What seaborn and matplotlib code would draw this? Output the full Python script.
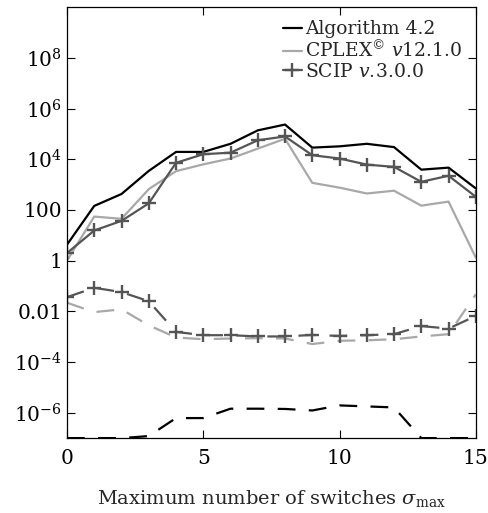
import numpy as np
import pandas as pd
import matplotlib
matplotlib.use("Agg")
import matplotlib.pyplot as plt
import seaborn as sns

# ==============================
# Dados (log10 dos valores)
# ==============================
switches = list(range(16))

alg_solid = [0.63, 2.16, 2.63, 3.54, 4.29, 4.29, 4.61, 5.14, 5.37, 4.46, 4.51, 4.61, 4.48, 3.59, 3.67, 2.85]
cplex_solid = [0.0, 1.74, 1.65, 2.82, 3.53, 3.80, 4.03, 4.42, 4.81, 3.07, 2.88, 2.65, 2.76, 2.17, 2.33, 0.12]
scip_solid = [0.30, 1.19, 1.57, 2.26, 3.86, 4.20, 4.26, 4.75, 4.90, 4.16, 4.03, 3.79, 3.70, 3.11, 3.35, 2.52]

alg_dashed = [-7.0, -7.0, -7.0, -6.92, -6.21, -6.21, -5.84, -5.84, -5.85, -5.91, -5.71, -5.75, -5.79, -7.0, -7.0, -7.0]
cplex_dashed = [-1.66, -2.03, -1.92, -2.55, -3.03, -3.10, -3.07, -3.06, -3.07, -3.29, -3.16, -3.14, -3.10, -2.99, -2.90, -1.33]
scip_dashed = [-1.44, -1.07, -1.24, -1.60, -2.81, -2.94, -2.94, -2.99, -2.99, -2.93, -2.97, -2.94, -2.90, -2.58, -2.68, -2.18]

ytick_vals = [1e8, 1e6, 1e4, 100, 1, 0.01, 1e-4, 1e-6]
ytick_labels = [r"$10^{8}$", r"$10^{6}$", r"$10^{4}$", "100", "1", "0.01", r"$10^{-4}$", r"$10^{-6}$"]

# ==============================
# Configurações
# ==============================
sns.set_theme(style="ticks")
plt.rcParams["font.family"] = ["DejaVu Serif"]
plt.rcParams["mathtext.fontset"] = "dejavuserif"

fig = plt.figure(figsize=(4.89, 5.13), dpi=100)
ax = fig.add_axes([0.137, 0.146, 0.836, 0.840])

black = "#000000"
light = "#a8a8a8"
dark = "#555555"
dash = (0, (8, 6))

series = [
    (alg_solid, black, "-", None, r"Algorithm 4.2"),
    (cplex_solid, light, "-", None, r"CPLEX$^{\copyright}$ $\mathit{v12.1.0}$"),
    (scip_solid, dark, "-", "+", r"SCIP $\mathit{v.\!3.0.0}$"),
    (alg_dashed, black, dash, None, None),
    (cplex_dashed, light, dash, None, None),
    (scip_dashed, dark, dash, "+", None),
]

for vals, color, ls, marker, label in series:
    y = 10.0 ** np.array(vals)
    sns.lineplot(x=switches, y=y, ax=ax, color=color, linestyle=ls,
                 marker=marker, markersize=10, markeredgewidth=1.7,
                 markeredgecolor=color, markerfacecolor=color,
                 linewidth=1.6, label=label, legend=False)

ax.set_yscale("log")
ax.set_ylim(1e-7, 1e10)
ax.set_xlim(0, 15)
ax.set_xticks([0, 5, 10, 15])
ax.set_yticks(ytick_vals)
ax.set_yticklabels(ytick_labels)
ax.yaxis.set_minor_locator(matplotlib.ticker.NullLocator())
ax.tick_params(direction="in", top=True, right=True, length=6, width=0.8,
               labelsize=14.5, colors="black")
ax.tick_params(axis="x", pad=8)
for s in ax.spines.values():
    s.set_color("black")
    s.set_linewidth(0.9)

ax.set_xlabel(r"Maximum number of switches $\sigma_{\max}$", fontsize=14, labelpad=14)
ax.set_ylabel("")

handles, labels = ax.get_legend_handles_labels()
ax.legend(handles, labels, loc="upper right", frameon=False, fontsize=13.5,
          handlelength=1.0, handletextpad=0.2, labelspacing=0.1,
          borderaxespad=0.3)

fig.savefig("out.png", dpi=100)
